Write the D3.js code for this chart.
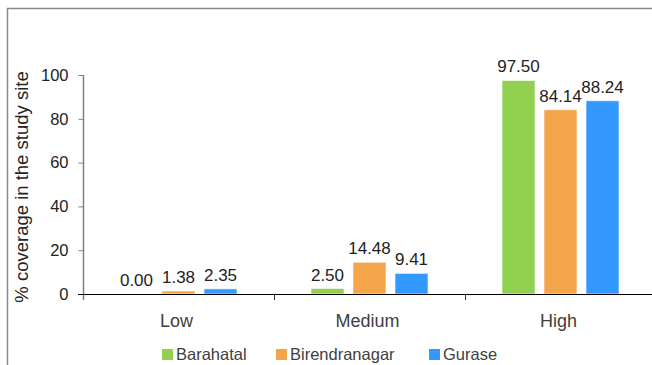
<!DOCTYPE html>
<html><head><meta charset="utf-8">
<script src="https://cdn.jsdelivr.net/npm/d3@7"></script>
<style>body{margin:0;background:#fff}svg{display:block}</style>
</head><body>
<script>
const categories = ["Low", "Medium", "High"];
const seriesNames = ["Barahatal", "Birendranagar", "Gurase"];
const barahatal = [0.00, 2.50, 97.50];
const birendranagar = [1.38, 14.48, 84.14];
const gurase = [2.35, 9.41, 88.24];
const yTicks = [0, 20, 40, 60, 80, 100];
const colors = ["#92D050", "#F4A54A", "#3399FF"];
const values = [barahatal, birendranagar, gurase];

const W = 652, H = 365;
const font = "'Liberation Sans', Arial, sans-serif";
const svg = d3.select("body").append("svg").attr("width", W).attr("height", H);

// outer frame
svg.append("path").attr("d", `M7.5,${H} V8.5 H${W}`).attr("fill","none").attr("stroke","#8a8a8a").attr("stroke-width",1.5);

const x = d3.scaleBand().domain(categories).range([83, 656]);
const xs = d3.scaleBand().domain(seriesNames).range([0, x.bandwidth()]).paddingInner(9/42).paddingOuter(0.88);
const y = d3.scaleLinear().domain([0, 100]).range([294, 75]);

// y axis
const yAxis = svg.append("g").attr("transform", "translate(83.5,0)")
  .call(d3.axisLeft(y).tickValues(yTicks).tickSize(5).tickPadding(10));
yAxis.select(".domain").remove();
yAxis.selectAll(".tick line").attr("stroke", "#7f7f7f");
yAxis.selectAll("text").attr("font-family", font).attr("font-size", 16.5).attr("fill", "#222");
svg.append("line").attr("x1",83.5).attr("x2",83.5).attr("y1",y(100)).attr("y2",300).attr("stroke","#7f7f7f").attr("stroke-width",1.5);

// bars
categories.forEach((c, ci) => {
  seriesNames.forEach((s, si) => {
    const v = values[si][ci];
    svg.append("rect")
      .attr("x", x(c) + xs(s)).attr("width", xs.bandwidth())
      .attr("y", y(v)).attr("height", y(0) - y(v))
      .attr("fill", colors[si]).attr("stroke", "rgba(255,255,255,0.6)").attr("stroke-width", 1);
    svg.append("text")
      .attr("x", x(c) + xs(s) + xs.bandwidth()/2).attr("y", y(v) - 8)
      .attr("text-anchor", "middle").attr("font-family", font).attr("font-size", 17).attr("fill", "#222")
      .text(v.toFixed(2));
  });
});

// x axis
svg.append("line").attr("x1",78).attr("x2",W).attr("y1",294.5).attr("y2",294.5).attr("stroke","#000").attr("stroke-width",1);
categories.forEach((c, i) => {
  if (i > 0) svg.append("line").attr("x1", x(c)+0.5).attr("x2", x(c)+0.5).attr("y1", 294).attr("y2", 300).attr("stroke", "#333");
  svg.append("text").attr("x", x(c) + x.bandwidth()/2 - 2).attr("y", 327)
    .attr("text-anchor","middle").attr("font-family", font).attr("font-size", 18).attr("fill", "#404040").text(c);
});

// y title
svg.append("text").attr("transform", "translate(28,187) rotate(-90)")
  .attr("text-anchor","middle").attr("font-family", font).attr("font-size", 18.5).attr("fill", "#222")
  .text("% coverage in the study site");

// legend
const legX = [162, 276, 429];
seriesNames.forEach((s, i) => {
  svg.append("rect").attr("x", legX[i]).attr("y", 349).attr("width", 11).attr("height", 11).attr("fill", colors[i]);
  svg.append("text").attr("x", legX[i] + 14).attr("y", 360).attr("font-family", font).attr("font-size", 16.5).attr("fill", "#404040").text(s);
});
</script>
</body></html>
